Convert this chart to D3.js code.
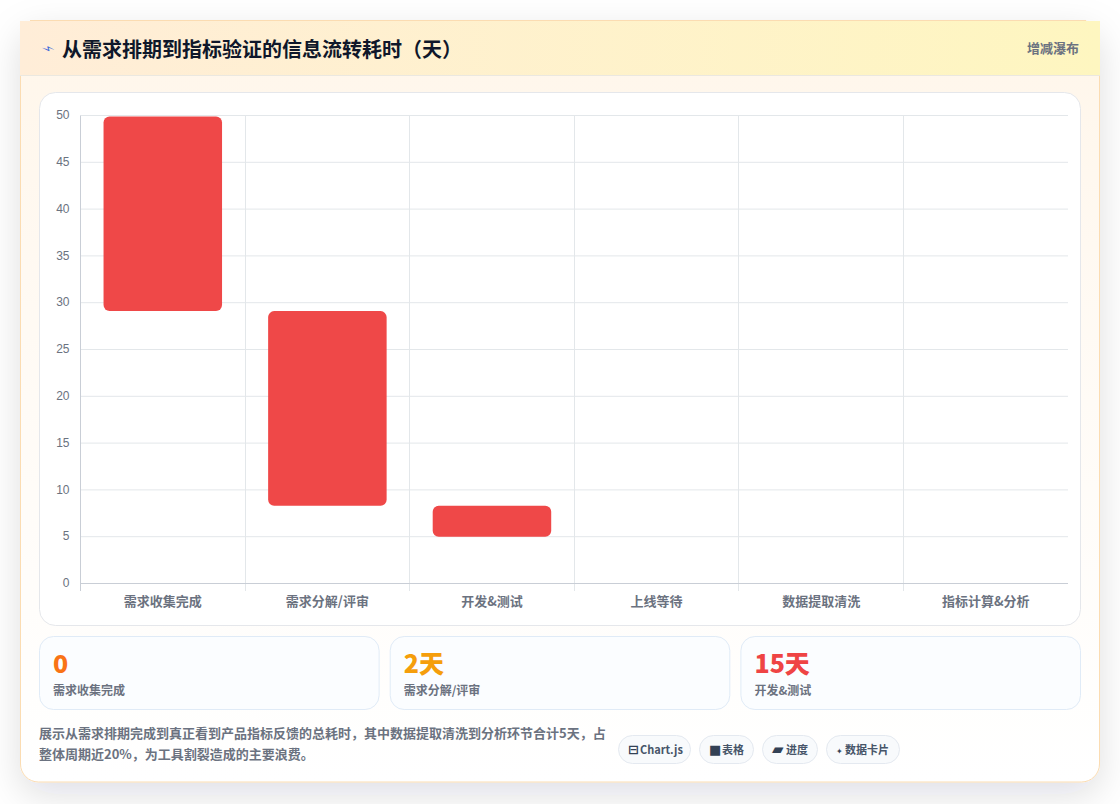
<!DOCTYPE html>
<html>
<head>
<meta charset="utf-8">
<script src="https://d3js.org/d3.v7.min.js"></script>
<style>
html, body { margin: 0; padding: 0; background: #fff; }
body { width: 1120px; height: 804px; overflow: hidden; font-family: "Noto Sans CJK SC", "Noto Sans", sans-serif; }
</style>
</head>
<body>
<div id="chart"></div>
<script>
var categories = ["需求收集完成", "需求分解/评审", "开发&测试", "上线等待", "数据提取清洗", "指标计算&分析"];
var barLow = [29.1, 8.3, 5, null, null, null];
var barHigh = [49.9, 29.1, 8.3, null, null, null];
var yTicks = [0, 5, 10, 15, 20, 25, 30, 35, 40, 45, 50];
var title = "从需求排期到指标验证的信息流转耗时（天）";
var tag = "增减瀑布";
var statValues = ["0", "2天", "15天"];
var statLabels = ["需求收集完成", "需求分解/评审", "开发&测试"];
var statColors = ["#f97316", "#f59e0b", "#ef4444"];
var noteLines = ["展示从需求排期完成到真正看到产品指标反馈的总耗时，其中数据提取清洗到分析环节合计5天，占", "整体周期近20%，为工具割裂造成的主要浪费。"];
var pillLabels = ["Chart.js", "表格", "进度", "数据卡片"];

var font = '"Noto Sans CJK SC", sans-serif';

var svg = d3.select("#chart").append("svg")
    .attr("width", 1120)
    .attr("height", 804)
    .style("display", "block");

var defs = svg.append("defs");

var headGrad = defs.append("linearGradient").attr("id", "headGrad");
headGrad.append("stop").attr("offset", "0%").attr("stop-color", "#ffedd8");
headGrad.append("stop").attr("offset", "100%").attr("stop-color", "#fef6c0");

var bodyGrad = defs.append("linearGradient").attr("id", "bodyGrad")
    .attr("x1", 0).attr("y1", 0).attr("x2", 0).attr("y2", 1);
bodyGrad.append("stop").attr("offset", "0%").attr("stop-color", "#fff6ea");
bodyGrad.append("stop").attr("offset", "50%").attr("stop-color", "#fffbf6");
bodyGrad.append("stop").attr("offset", "100%").attr("stop-color", "#ffffff");

var shadow = defs.append("filter").attr("id", "shadow")
    .attr("x", "-10%").attr("y", "-10%").attr("width", "120%").attr("height", "125%");
shadow.append("feDropShadow")
    .attr("dx", 0).attr("dy", 12).attr("stdDeviation", 18)
    .attr("flood-color", "#0f172a").attr("flood-opacity", 0.13);

// card
svg.append("rect")
    .attr("x", 20.5).attr("y", 20.5).attr("width", 1079).attr("height", 761.5).attr("rx", 18)
    .attr("fill", "url(#bodyGrad)")
    .attr("stroke", "#fbdcb2")
    .attr("filter", "url(#shadow)");

// header is not clipped to the card's corners
svg.append("rect")
    .attr("x", 20).attr("y", 21).attr("width", 1080).attr("height", 54)
    .attr("fill", "url(#headGrad)");
svg.append("line")
    .attr("x1", 30).attr("x2", 1086).attr("y1", 20.5).attr("y2", 20.5)
    .attr("stroke", "#fbdcb2");
svg.append("line")
    .attr("x1", 20).attr("x2", 1100).attr("y1", 75.5).attr("y2", 75.5)
    .attr("stroke", "#ebe8e0");

svg.append("text")
    .attr("transform", "translate(44,51) rotate(62)")
    .attr("text-anchor", "middle")
    .attr("font-family", "DejaVu Sans").attr("font-size", 13)
    .attr("fill", "#3f6bd8")
    .text("⚡");

svg.append("text")
    .attr("x", 62).attr("y", 57)
    .attr("font-family", font).attr("font-size", 20).attr("font-weight", 700)
    .attr("fill", "#0f172a")
    .text(title);

svg.append("text")
    .attr("x", 1079).attr("y", 52.5)
    .attr("text-anchor", "end")
    .attr("font-family", font).attr("font-size", 13).attr("font-weight", 700)
    .attr("fill", "#6b7280")
    .text(tag);

// chart panel
svg.append("rect")
    .attr("x", 39.5).attr("y", 92.5).attr("width", 1041).attr("height", 533).attr("rx", 16)
    .attr("fill", "#fff")
    .attr("stroke", "#e5e7eb");

var x = d3.scaleBand().domain(categories).range([80.5, 1068]);
var y = d3.scaleLinear().domain([0, 50]).range([583.5, 115.5]);

var grid = svg.append("g");
grid.selectAll("line.h")
  .data(yTicks.filter(function(d) { return d > 0; }))
  .enter().append("line")
    .attr("class", "h")
    .attr("x1", 80.5).attr("x2", 1068)
    .attr("y1", function(d) { return y(d); })
    .attr("y2", function(d) { return y(d); })
    .attr("stroke", "#e3e7ea");
grid.selectAll("line.v")
  .data(categories.slice(1))
  .enter().append("line")
    .attr("class", "v")
    .attr("x1", function(d) { return Math.floor(x(d)) + 0.5; })
    .attr("x2", function(d) { return Math.floor(x(d)) + 0.5; })
    .attr("y1", 115.5).attr("y2", 591)
    .attr("stroke", "#e3e7ea");

var yAxis = d3.axisLeft(y).tickValues(yTicks).tickSize(0).tickPadding(11);
var yG = svg.append("g")
    .attr("transform", "translate(80.5,0)")
    .call(yAxis);
yG.select(".domain").attr("stroke", "#c9ced6").attr("d", "M0,115.5V591");
yG.selectAll("text")
    .attr("dy", "0.27em")
    .attr("font-family", "Liberation Sans, Arial, sans-serif")
    .attr("font-size", 12)
    .attr("fill", "#6b7280");

var xAxis = d3.axisBottom(x).tickSize(0).tickPadding(13);
var xG = svg.append("g")
    .attr("transform", "translate(0,583.5)")
    .call(xAxis);
xG.select(".domain").attr("stroke", "#c9ced6").attr("d", "M80.5,0H1068");
xG.selectAll("text")
    .attr("font-family", font)
    .attr("font-size", 13)
    .attr("font-weight", 700)
    .attr("fill", "#6b7280");

// floating bars
var barW = x.bandwidth() * 0.72;
svg.append("g").selectAll("rect")
  .data(categories.map(function(c, i) { return { c: c, low: barLow[i], high: barHigh[i] }; })
    .filter(function(d) { return d.low !== null; }))
  .enter().append("rect")
    .attr("x", function(d) { return x(d.c) + (x.bandwidth() - barW) / 2; })
    .attr("width", barW)
    .attr("y", function(d) { return y(d.high); })
    .attr("height", function(d) { return y(d.low) - y(d.high); })
    .attr("rx", 6)
    .attr("fill", "#ef4444")
    .attr("fill-opacity", 0.98);

// stat cards
var statX = d3.scaleBand().domain(d3.range(3)).range([39, 1081]).paddingInner(10 / 347);
var stats = svg.append("g").selectAll("g")
  .data(statValues)
  .enter().append("g")
    .attr("transform", function(d, i) { return "translate(" + statX(i) + ",636)"; });
stats.append("rect")
    .attr("x", 0.5).attr("y", 0.5)
    .attr("width", statX.bandwidth() - 1).attr("height", 73)
    .attr("rx", 14)
    .attr("fill", "#fbfdff")
    .attr("stroke", "#e0ebf7");
stats.append("text")
    .attr("x", 14).attr("y", 37)
    .attr("font-family", font).attr("font-size", 25).attr("font-weight", 900)
    .attr("fill", function(d, i) { return statColors[i]; })
    .text(function(d) { return d; });
stats.append("text")
    .attr("x", 14).attr("y", 58.5)
    .attr("font-family", font).attr("font-size", 12).attr("font-weight", 700)
    .attr("fill", "#6b7280")
    .text(function(d, i) { return statLabels[i]; });

// note
svg.append("g").selectAll("text")
  .data(noteLines)
  .enter().append("text")
    .attr("x", 39)
    .attr("y", function(d, i) { return 738 + i * 20.5; })
    .attr("font-family", font).attr("font-size", 13).attr("font-weight", 700)
    .attr("fill", "#6b7280")
    .text(function(d) { return d; });

// pills
var pillX = [618, 699, 762, 826];
var pillW = [73, 55, 56, 74];
var pillIcons = ["⊟", "■", "▰", "✦"];
var pillIconSize = [13, 13, 15, 8];
var pillTextX = [22, 23, 24, 19];
var pills = svg.append("g").selectAll("g")
  .data(pillLabels)
  .enter().append("g")
    .attr("transform", function(d, i) { return "translate(" + pillX[i] + ",735)"; });
pills.append("rect")
    .attr("x", 0.5).attr("y", 0.5)
    .attr("width", function(d, i) { return pillW[i] - 1; })
    .attr("height", 28).attr("rx", 14)
    .attr("fill", "#f8fafc")
    .attr("stroke", "#e4e9f0");
pills.append("text")
    .attr("x", 10).attr("y", 19)
    .attr("font-family", "DejaVu Sans").attr("font-weight", 700)
    .attr("font-size", function(d, i) { return pillIconSize[i]; })
    .attr("fill", "#334155")
    .text(function(d, i) { return pillIcons[i]; });
pills.append("text")
    .attr("x", function(d, i) { return pillTextX[i]; }).attr("y", 19)
    .attr("font-family", font).attr("font-size", 11).attr("font-weight", 700)
    .attr("fill", "#475569")
    .text(function(d) { return d; });
</script>
</body>
</html>
